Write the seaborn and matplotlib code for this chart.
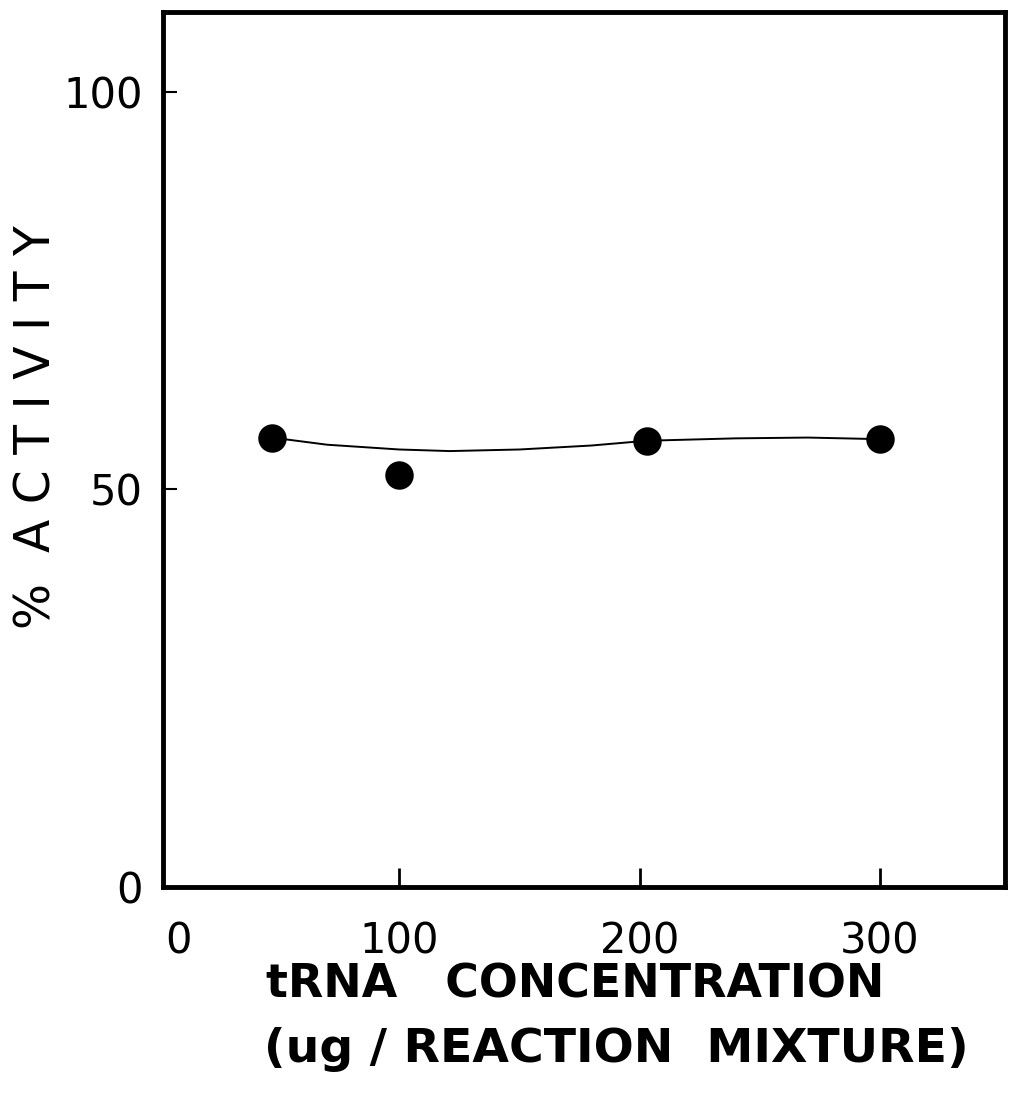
import matplotlib
matplotlib.use("Agg")
import matplotlib.pyplot as plt
import seaborn as sns
import pandas as pd

# Data
trna_conc = [47, 100, 203, 300]
activity = [56.5, 51.8, 56.1, 56.3]

# hand-drawn smooth curve, read at several positions
curve_x = [47, 70, 100, 121, 150, 180, 203, 240, 270, 300]
curve_y = [56.5, 55.6, 55.0, 54.8, 55.0, 55.5, 56.1, 56.4, 56.5, 56.3]

x_ticks = [100, 200, 300]
x_tick_labels = ["100", "200", "300"]
y_ticks = [0, 50, 100]
y_tick_labels = ["0", "50", "100"]

sns.set_theme(style="white")
plt.rcParams['font.family'] = ['DejaVu Sans']

fig = plt.figure(figsize=(10.16, 10.99), dpi=100)
ax = fig.add_axes([0.160, 0.193, 0.829, 0.796])

pts = pd.DataFrame({"x": trna_conc, "y": activity})
cur = pd.DataFrame({"x": curve_x, "y": curve_y})

sns.lineplot(data=cur, x="x", y="y", ax=ax, color="black", linewidth=1.4, sort=True)
sns.scatterplot(data=pts, x="x", y="y", ax=ax, color="black", s=420, edgecolor="black", linewidth=0, zorder=5)

ax.set_xlim(1.5, 352)
ax.set_ylim(0, 110)

ax.set_xticks(x_ticks)
ax.set_xticklabels(x_tick_labels, fontsize=30)
ax.set_yticks(y_ticks)
ax.set_yticklabels(y_tick_labels, fontsize=30)
ax.tick_params(axis="x", bottom=True, direction="in", length=14, width=2.0, pad=24, labelcolor="black", color="black")
ax.tick_params(axis="y", left=True, direction="in", length=10, width=1.5, pad=14, labelcolor="black", color="black")
ax.text(8, -4.2, "0", fontsize=30, ha="center", va="top", color="black")

for s in ax.spines.values():
    s.set_color("black")
    s.set_linewidth(3.5)

ax.set_xlabel("")
ax.set_ylabel("")
fig.text(0.036, 0.611, "%  A C T I V I T Y", fontsize=35, rotation=90, ha="center", va="center", color="black")
fig.text(0.566, 0.104, "tRNA   CONCENTRATION", fontsize=33, fontweight="bold", ha="center", va="center", color="black")
fig.text(0.607, 0.045, "(ug / REACTION  MIXTURE)", fontsize=34, fontweight="bold", ha="center", va="center", color="black")

ax.grid(False)
fig.savefig("out.png", dpi=100, facecolor="white")
